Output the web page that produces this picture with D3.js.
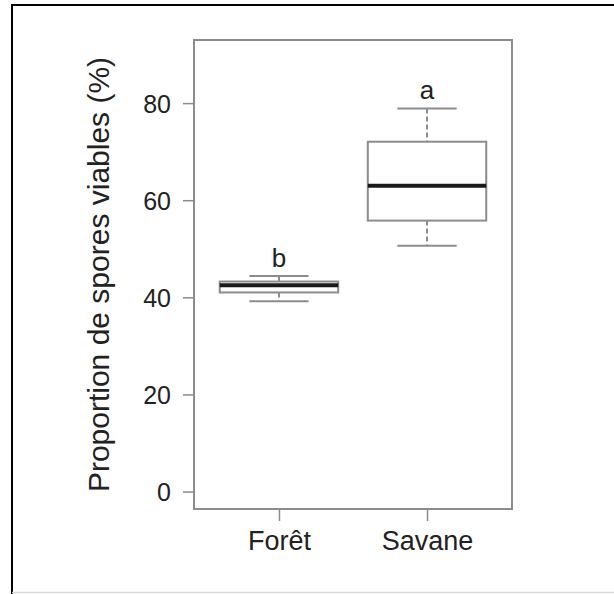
<!DOCTYPE html>
<html>
<head>
<meta charset="utf-8">
<script src="https://cdn.jsdelivr.net/npm/d3@7"></script>
<style>
  body { margin: 0; background: #fff; }
  svg { display: block; }
  text { font-family: "Liberation Sans", Arial, sans-serif; fill: #222; }
</style>
</head>
<body>
<script>
// boxplot data
var groups = ["Forêt", "Savane"];
var whiskLow = [39.2, 50.6];
var q1 = [41.0, 55.8];
var medians = [42.5, 63.0];
var q3 = [43.25, 72.05];
var whiskHigh = [44.4, 78.9];
var letters = ["b", "a"];
var yTicks = [0, 20, 40, 60, 80];

var width = 614,
    height = 594;

var svg = d3.select("body")
    .append("svg")
    .attr("width", width)
    .attr("height", height);

//outer frame (top/left black, bottom light)
svg.append("line").attr("x1", 11).attr("x2", width).attr("y1", 5).attr("y2", 5)
    .attr("stroke", "#000").attr("stroke-width", 2);
svg.append("line").attr("x1", 12).attr("x2", 12).attr("y1", 4).attr("y2", height)
    .attr("stroke", "#000").attr("stroke-width", 2);
svg.append("line").attr("x1", 12).attr("x2", width).attr("y1", 592.5).attr("y2", 592.5)
    .attr("stroke", "#d8d8d8").attr("stroke-width", 1.5);

//plot region (named so they don't clash with window.top)
var pLeft = 194, pRight = 512, pTop = 40, pBottom = 509;

var x = d3.scaleLinear()
    .domain([0.426, 2.574])
    .range([pLeft, pRight]);

var y = d3.scaleLinear()
    .domain([-3.6, 93])
    .range([pBottom, pTop]);

var grey = "#8c8c8c";

//y axis
var yAxis = svg.append("g")
    .attr("transform", "translate(" + pLeft + ",0)")
    .call(d3.axisLeft(y).tickValues(yTicks).tickSize(11).tickPadding(12));
yAxis.select(".domain").remove();
yAxis.selectAll("line").attr("stroke", grey).attr("stroke-width", 1.5);
yAxis.selectAll("text")
    .attr("font-size", 25)
    .attr("dy", "0.36em")
    .style("font-family", "Liberation Sans, Arial, sans-serif")
    .attr("fill", "#222");

//x axis
var xAxis = svg.append("g")
    .attr("transform", "translate(0," + pBottom + ")")
    .call(d3.axisBottom(x).tickValues([1, 2]).tickFormat(function(d){ return groups[d - 1]; })
        .tickSize(12).tickPadding(10));
xAxis.select(".domain").remove();
xAxis.selectAll("line").attr("stroke", grey).attr("stroke-width", 1.5);
xAxis.selectAll("text")
    .attr("font-size", 27)
    .attr("dy", "0.71em")
    .style("font-family", "Liberation Sans, Arial, sans-serif")
    .attr("fill", "#222");

//plot box
svg.append("rect")
    .attr("x", pLeft).attr("y", pTop)
    .attr("width", pRight - pLeft).attr("height", pBottom - pTop)
    .attr("fill", "none")
    .attr("stroke", grey)
    .attr("stroke-width", 2);

//y label
svg.append("text")
    .attr("transform", "translate(109," + ((pTop + pBottom) / 2) + ") rotate(-90)")
    .attr("text-anchor", "middle")
    .attr("font-size", 30)
    .text("Proportion de spores viables (%)");

//boxes
var boxW = 0.4, capW = 0.2;
var data = groups.map(function(g, i){
    return {i: i + 1, lo: whiskLow[i], q1: q1[i], med: medians[i], q3: q3[i], hi: whiskHigh[i], letter: letters[i]};
});

var box = svg.selectAll(".box")
    .data(data)
    .enter()
    .append("g")
    .attr("class", "box");

//whiskers dashed
box.append("line")
    .attr("x1", function(d){ return x(d.i); }).attr("x2", function(d){ return x(d.i); })
    .attr("y1", function(d){ return y(d.hi); }).attr("y2", function(d){ return y(d.q3); })
    .attr("stroke", grey).attr("stroke-width", 2).attr("stroke-dasharray", "5,3");
box.append("line")
    .attr("x1", function(d){ return x(d.i); }).attr("x2", function(d){ return x(d.i); })
    .attr("y1", function(d){ return y(d.q1); }).attr("y2", function(d){ return y(d.lo); })
    .attr("stroke", grey).attr("stroke-width", 2).attr("stroke-dasharray", "5,3");

//caps
["hi", "lo"].forEach(function(k){
    box.append("line")
        .attr("x1", function(d){ return x(d.i - capW); }).attr("x2", function(d){ return x(d.i + capW); })
        .attr("y1", function(d){ return y(d[k]); }).attr("y2", function(d){ return y(d[k]); })
        .attr("stroke", grey).attr("stroke-width", 2);
});

//box
box.append("rect")
    .attr("x", function(d){ return x(d.i - boxW); })
    .attr("y", function(d){ return y(d.q3); })
    .attr("width", function(d){ return x(d.i + boxW) - x(d.i - boxW); })
    .attr("height", function(d){ return y(d.q1) - y(d.q3); })
    .attr("fill", "#fff")
    .attr("stroke", grey)
    .attr("stroke-width", 2);

//median
box.append("line")
    .attr("x1", function(d){ return x(d.i - boxW); }).attr("x2", function(d){ return x(d.i + boxW); })
    .attr("y1", function(d){ return y(d.med); }).attr("y2", function(d){ return y(d.med); })
    .attr("stroke", "#1a1a1a").attr("stroke-width", 4);

//significance letters
box.append("text")
    .attr("x", function(d){ return x(d.i); })
    .attr("y", function(d){ return y(d.hi) - 9; })
    .attr("text-anchor", "middle")
    .attr("font-size", 26)
    .text(function(d){ return d.letter; });
</script>
</body>
</html>
